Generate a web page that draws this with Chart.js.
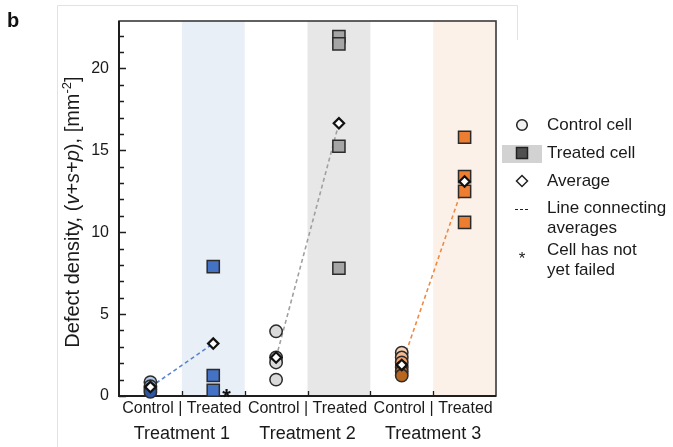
<!DOCTYPE html>
<html>
<head>
<meta charset="utf-8">
<script src="https://cdn.jsdelivr.net/npm/chart.js@4/dist/chart.umd.min.js"></script>
<style>
  html, body { margin: 0; padding: 0; background: #fff; }
  canvas { display: block; }
</style>
</head>
<body>
<canvas id="c" width="673" height="447"></canvas>
<script>
// ---- data ----
const treatments = ['Treatment 1', 'Treatment 2', 'Treatment 3'];
const conditionLabel = 'Control | Treated';
const yTicks = [0, 5, 10, 15, 20];

const control1 = [0.85, 0.6, 0.4, 0.25];
const treated1 = [7.9, 1.25, 0.35];
const control2 = [3.95, 2.35, 2.05, 1.0];
const treated2 = [21.95, 21.5, 15.25, 7.8];
const control3 = [2.65, 2.35, 2.05, 1.75, 1.5, 1.25];
const treated3 = [15.8, 13.4, 12.5, 10.6];

const avgControl = [0.55, 2.35, 1.9];
const avgTreated = [3.2, 16.65, 13.1];

// treated cells that have not yet failed: [treatment index, value]
const notFailed = [[0, 0.35]];

const legendLabels = [
  ['Control cell'],
  ['Treated cell'],
  ['Average'],
  ['Line connecting', 'averages'],
  ['Cell has not', 'yet failed']
];

// ---- styling ----
const FONT = "'Liberation Sans', Arial, sans-serif";
const seriesColors = ['#4472C4', '#A5A5A5', '#ED7D31'];
const dashColors = ['#5B84CC', '#A0A0A0', '#EE8A45'];
const bandColors = ['#E9EFF7', '#E7E7E7', '#FCF1E8'];
const controlShades = [
  ['#B7C9E8', '#7F9FD6', '#4A73BE', '#2E569E'],
  ['#DADADA', '#DADADA', '#DADADA', '#DADADA'],
  ['#F9D3B8', '#F5B88F', '#F0A06A', '#D9782F', '#C66A25', '#B8651F']
];
const edge = '#2B2B2B';

const controls = [control1, control2, control3];
const treateds = [treated1, treated2, treated3];

const datasets = [];
// dashed lines connecting averages
for (let g = 0; g < 3; g++) {
  datasets.push({
    type: 'line',
    data: [{ x: g * 2 + 0.5, y: avgControl[g] }, { x: g * 2 + 1.5, y: avgTreated[g] }],
    borderColor: dashColors[g],
    borderWidth: 1.6,
    borderDash: [4, 3],
    pointRadius: 0,
    fill: false,
    order: 3,
    clip: false
  });
}
// control cells (circles)
for (let g = 0; g < 3; g++) {
  datasets.push({
    type: 'scatter',
    data: controls[g].map(v => ({ x: g * 2 + 0.5, y: v })),
    pointStyle: 'circle',
    pointRadius: 6.2,
    pointBackgroundColor: controlShades[g],
    pointBorderColor: edge,
    pointBorderWidth: 1.5,
    order: 2,
    clip: false
  });
}
// treated cells (squares)
for (let g = 0; g < 3; g++) {
  datasets.push({
    type: 'scatter',
    data: treateds[g].map(v => ({ x: g * 2 + 1.5, y: v })),
    pointStyle: 'rect',
    pointRadius: 8.6,
    pointBackgroundColor: seriesColors[g],
    pointBorderColor: edge,
    pointBorderWidth: 1.5,
    order: 2,
    clip: false
  });
}
// averages (diamonds)
const avgPoints = [];
for (let g = 0; g < 3; g++) {
  avgPoints.push({ x: g * 2 + 0.5, y: avgControl[g] });
  avgPoints.push({ x: g * 2 + 1.5, y: avgTreated[g] });
}
datasets.push({
  type: 'scatter',
  data: avgPoints,
  pointStyle: 'rectRot',
  pointRadius: 5.2,
  pointBackgroundColor: '#FFFFFF',
  pointBorderColor: '#111111',
  pointBorderWidth: 2.2,
  order: 1,
  clip: false
});

// ---- drawing helpers ----
function drawBands(chart) {
  const { ctx, chartArea: a, scales: { x } } = chart;
  ctx.save();
  for (let g = 0; g < 3; g++) {
    const x0 = x.getPixelForValue(g * 2 + 1);
    const x1 = x.getPixelForValue(g * 2 + 2);
    ctx.fillStyle = bandColors[g];
    ctx.fillRect(x0, a.top, x1 - x0, a.bottom - a.top);
  }
  ctx.restore();
}

function drawFrame(chart) {
  const { ctx, chartArea: a, scales: { x, y } } = chart;
  ctx.save();
  ctx.strokeStyle = '#3A3A3A';
  ctx.lineWidth = 1.6;
  ctx.strokeRect(a.left, a.top, a.right - a.left, a.bottom - a.top);
  ctx.strokeStyle = '#1E1E1E';
  ctx.lineWidth = 2;
  ctx.beginPath();
  ctx.moveTo(a.left, a.top);
  ctx.lineTo(a.left, a.bottom);
  ctx.lineTo(a.right, a.bottom);
  ctx.stroke();
  // y ticks: minor every unit, major at labelled values
  ctx.lineWidth = 1.3;
  ctx.beginPath();
  for (let v = 0; v <= Math.floor(y.max); v++) {
    const py = Math.round(y.getPixelForValue(v)) + 0.5;
    const len = (v % 5 === 0) ? 7 : 5;
    ctx.moveTo(a.left, py);
    ctx.lineTo(a.left + len, py);
  }
  // x ticks at slot boundaries
  for (let v = 1; v < 6; v++) {
    const px = Math.round(x.getPixelForValue(v)) + 0.5;
    ctx.moveTo(px, a.bottom);
    ctx.lineTo(px, a.bottom - 5);
  }
  ctx.stroke();
  ctx.restore();
}

function drawRichVertical(ctx, cx, cy, parts) {
  ctx.save();
  ctx.translate(cx, cy);
  ctx.rotate(-Math.PI / 2);
  let total = 0;
  parts.forEach(p => { ctx.font = p.font; p.w = ctx.measureText(p.t).width; total += p.w; });
  let px = -total / 2;
  ctx.fillStyle = '#1A1A1A';
  ctx.textBaseline = 'alphabetic';
  ctx.textAlign = 'left';
  parts.forEach(p => {
    ctx.font = p.font;
    ctx.fillText(p.t, px, p.dy || 0);
    px += p.w;
  });
  ctx.restore();
}

function drawLegend(chart) {
  const ctx = chart.ctx;
  const mx = 522, tx = 547;
  const rows = [125, 153, 181, 208, 250];
  ctx.save();
  // highlight behind the treated marker
  ctx.fillStyle = '#D2D2D2';
  ctx.fillRect(502, 145, 40, 18);
  ctx.lineWidth = 1.5;
  ctx.strokeStyle = '#222';
  // circle
  ctx.beginPath();
  ctx.arc(mx, rows[0], 5.3, 0, Math.PI * 2);
  ctx.fillStyle = '#F2F2F2';
  ctx.fill();
  ctx.stroke();
  // square
  ctx.fillStyle = '#505050';
  ctx.fillRect(mx - 5.5, rows[1] - 5.5, 11, 11);
  ctx.strokeRect(mx - 5.5, rows[1] - 5.5, 11, 11);
  // diamond
  ctx.beginPath();
  ctx.moveTo(mx, rows[2] - 5.5);
  ctx.lineTo(mx + 5.5, rows[2]);
  ctx.lineTo(mx, rows[2] + 5.5);
  ctx.lineTo(mx - 5.5, rows[2]);
  ctx.closePath();
  ctx.fillStyle = '#fff';
  ctx.fill();
  ctx.stroke();
  // dashes
  ctx.lineWidth = 1;
  ctx.beginPath();
  [[515, 518], [520, 523], [525, 528]].forEach(([a, b]) => { ctx.moveTo(a, rows[3] + 1.5); ctx.lineTo(b, rows[3] + 1.5); });
  ctx.stroke();
  // asterisk
  ctx.fillStyle = '#1A1A1A';
  ctx.font = '17px ' + FONT;
  ctx.textAlign = 'center';
  ctx.textBaseline = 'alphabetic';
  ctx.fillText('*', mx, rows[4] + 14);
  // texts
  ctx.font = '17px ' + FONT;
  ctx.textAlign = 'left';
  ctx.textBaseline = 'middle';
  legendLabels.forEach((lines, i) => {
    lines.forEach((t, j) => ctx.fillText(t, tx, rows[i] + j * 20));
  });
  ctx.restore();
}

const figurePlugin = {
  id: 'figure',
  beforeDatasetsDraw(chart) {
    drawBands(chart);
    drawFrame(chart);
  },
  afterDraw(chart) {
    const { ctx, scales: { x, y } } = chart;
    // faint panel outline
    ctx.save();
    ctx.strokeStyle = '#E2E2E2';
    ctx.lineWidth = 1;
    ctx.beginPath();
    ctx.moveTo(57.5, 447);
    ctx.lineTo(57.5, 5.5);
    ctx.lineTo(517.5, 5.5);
    ctx.lineTo(517.5, 40);
    ctx.stroke();
    // panel letter
    ctx.fillStyle = '#111';
    ctx.font = 'bold 20px ' + FONT;
    ctx.textAlign = 'left';
    ctx.textBaseline = 'alphabetic';
    ctx.fillText('b', 7, 27);
    // not-yet-failed markers
    ctx.font = 'bold 22px ' + FONT;
    notFailed.forEach(([g, v]) => {
      const px = x.getPixelForValue(g * 2 + 1.5);
      const py = y.getPixelForValue(v);
      ctx.fillText('*', px + 9, py + 14);
    });
    ctx.restore();
    // y-axis title
    const f = '20px ' + FONT, fi = 'italic 20px ' + FONT, fs = '13px ' + FONT;
    drawRichVertical(ctx, 79, 212, [
      { t: 'Defect density, (', font: f },
      { t: 'v', font: fi },
      { t: '+', font: f },
      { t: 's', font: fi },
      { t: '+', font: f },
      { t: 'p', font: fi },
      { t: '), [mm', font: f },
      { t: '-2', font: fs, dy: -8 },
      { t: ']', font: f }
    ]);
    drawLegend(chart);
  }
};

new Chart(document.getElementById('c'), {
  data: { datasets },
  options: {
    responsive: false,
    animation: false,
    events: [],
    layout: { padding: { left: 0, right: 177, top: 21, bottom: 0 } },
    plugins: { legend: { display: false }, tooltip: { enabled: false } },
    scales: {
      x: {
        type: 'linear', position: 'bottom', min: 0, max: 6,
        afterBuildTicks: s => { s.ticks = [1, 3, 5].map(v => ({ value: v })); },
        afterFit: s => { s.height = 24; },
        ticks: { callback: () => conditionLabel, font: { family: FONT, size: 16 }, color: '#1A1A1A', padding: 3, maxRotation: 0, autoSkip: false },
        grid: { display: false, drawTicks: false },
        border: { display: false }
      },
      x2: {
        type: 'linear', position: 'bottom', min: 0, max: 6,
        afterBuildTicks: s => { s.ticks = [1, 3, 5].map(v => ({ value: v })); },
        afterFit: s => { s.height = 27; },
        ticks: { callback: v => treatments[(v - 1) / 2], font: { family: FONT, size: 18 }, color: '#1A1A1A', padding: 3, maxRotation: 0, autoSkip: false },
        grid: { display: false, drawTicks: false },
        border: { display: false }
      },
      y: {
        type: 'linear', min: 0, max: 22.9,
        afterBuildTicks: s => { s.ticks = yTicks.map(v => ({ value: v })); },
        afterFit: s => { s.width = 119; },
        ticks: { font: { family: FONT, size: 16 }, color: '#1A1A1A', padding: 10 },
        grid: { display: false, drawTicks: false },
        border: { display: false }
      }
    }
  },
  plugins: [figurePlugin]
});
</script>
</body>
</html>
